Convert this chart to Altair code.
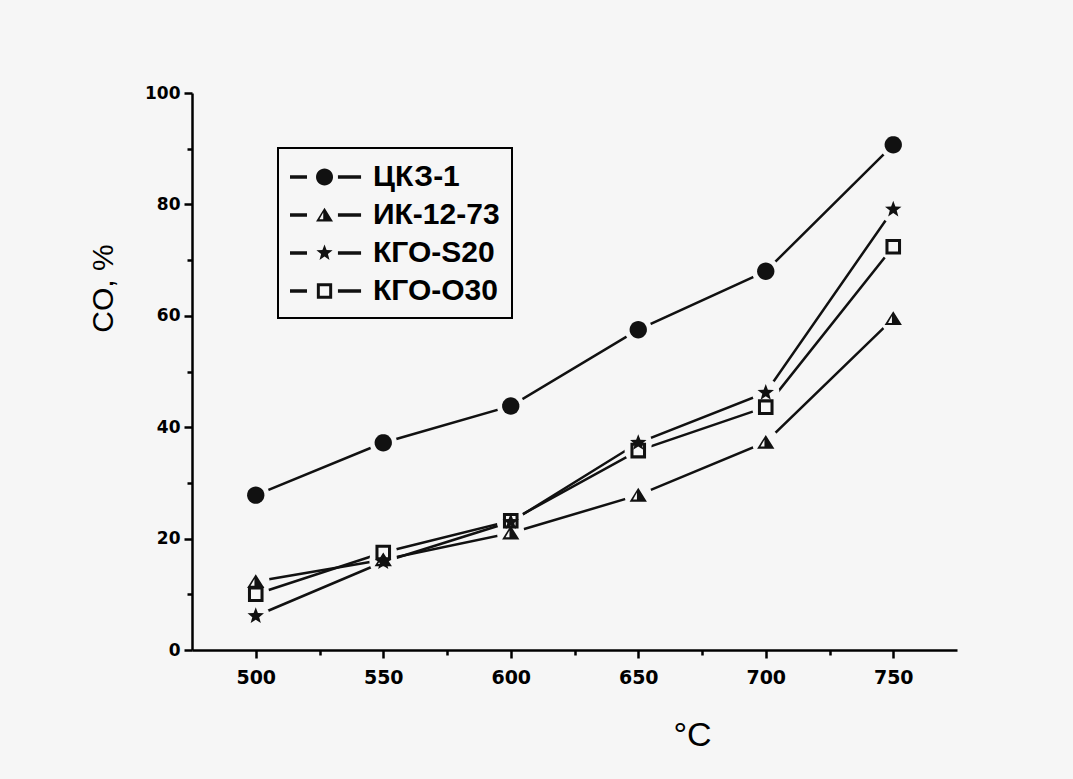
import math
import altair as alt
import pandas as pd

# ---- data ----
temps = [500, 550, 600, 650, 700, 750]
series_names = ["ЦКЗ-1", "ИК-12-73", "КГО-S20", "КГО-О30"]
co_tskz1 = [27.8, 37.2, 43.8, 57.5, 68.0, 90.7]
co_ik1273 = [12.3, 16.2, 21.0, 27.8, 37.3, 59.5]
co_kgo_s20 = [6.1, 15.8, 23.0, 37.2, 46.2, 79.1]
co_kgo_o30 = [10.0, 17.5, 23.2, 35.8, 43.6, 72.4]
x_major = [500, 550, 600, 650, 700, 750]
x_ticks = [500, 525, 550, 575, 600, 625, 650, 675, 700, 725, 750]
y_ticks = [0, 10, 20, 30, 40, 50, 60, 70, 80, 90, 100]

rows = []
for name, vals in zip(series_names, [co_tskz1, co_ik1273, co_kgo_s20, co_kgo_o30]):
    for t, v in zip(temps, vals):
        rows.append({"T": t, "CO": v, "series": name})
df = pd.DataFrame(rows)

BG = "#f6f6f6"
INK = "#111111"


# ---- symbol shapes (unit box) ----
def poly(pts, s=1.0, dx=0.0):
    return "M" + "L".join(f"{x * s + dx:.3f},{y * s:.3f}" for x, y in pts) + "Z"


circle_pts = [(math.cos(2 * math.pi * k / 32), math.sin(2 * math.pi * k / 32)) for k in range(32)]
star_pts = []
for k in range(10):
    r = 1.0 if k % 2 == 0 else 0.42
    a = math.radians(-90 + 36 * k)
    star_pts.append((r * math.cos(a), r * math.sin(a)))
tri_outer = [(0, -0.85), (1, 0.75), (-1, 0.75)]
tri_hole = [(-0.15, -0.3), (-0.6, 0.5), (-0.15, 0.5)]
sq_outer = [(-0.9, -0.9), (0.9, -0.9), (0.9, 0.9), (-0.9, 0.9)]
sq_hole = [(-0.55, -0.55), (-0.55, 0.55), (0.55, 0.55), (0.55, -0.55)]

shape_polys = [[circle_pts], [tri_outer, tri_hole], [star_pts], [sq_outer, sq_hole]]

plot_shapes = [" ".join(poly(p) for p in polys) for polys in shape_polys]

# legend symbols: dash - marker - dash
dash_t = 0.1
dashes = (poly([(-1, -dash_t), (0, -dash_t), (0, dash_t), (-1, dash_t)]) + " " +
          poly([(1.82, -dash_t), (3.18, -dash_t), (3.18, dash_t), (1.82, dash_t)]))
legend_shapes = [dashes + " " + " ".join(poly(p, 0.5, 1.03) for p in polys) for polys in shape_polys]

x_enc = alt.X(
    "T:Q",
    scale=alt.Scale(domain=[475, 775], nice=False, zero=False),
    axis=alt.Axis(
        values=x_ticks,
        labelExpr="datum.value % 50 === 0 ? datum.label : ''",
        tickSize={"condition": {"test": "datum.value % 50 === 0", "value": 8}, "value": 5},
        labelFontSize=19,
        labelPadding=10,
        title="°C",
        titleFontSize=34,
        titleFont="Liberation Sans",
        titleFontWeight="normal",
        titleX=500,
        titleY=95,
        titleAlign="center",
        titleBaseline="alphabetic",
        titleColor="black",
    ),
)
y_enc = alt.Y(
    "CO:Q",
    scale=alt.Scale(domain=[0, 100], nice=False),
    axis=alt.Axis(
        values=y_ticks,
        labelExpr="datum.value % 20 === 0 ? datum.label : ''",
        tickSize={"condition": {"test": "datum.value % 20 === 0", "value": 8}, "value": 5},
        labelFontSize=17,
        labelPadding=4,
        title="CO, %",
        titleFontSize=30,
        titleFont="Liberation Sans",
        titleFontWeight="normal",
        titleX=-89,
        titleY=195,
        titleAlign="center",
        titleBaseline="middle",
        titleColor="black",
    ),
)

base = alt.Chart(df)

line_layers = []
for i, name in enumerate(series_names):
    enc_x = x_enc if i == 0 else alt.X("T:Q")
    enc_y = y_enc if i == 0 else alt.Y("CO:Q")
    line_layers.append(
        base.transform_filter(alt.datum.series == name)
        .mark_line(color=INK, strokeWidth=2.5)
        .encode(x=enc_x, y=enc_y, order="T:Q")
    )

halos = base.mark_point(filled=True, fill=BG, size=750, shape="circle", opacity=1, strokeWidth=0).encode(
    x="T:Q", y="CO:Q"
)

points = base.mark_point(filled=True, color=INK, size=300, opacity=1).encode(
    x="T:Q",
    y="CO:Q",
    shape=alt.Shape(
        "series:N",
        scale=alt.Scale(domain=series_names, range=plot_shapes),
        legend=None,
    ),
)

legend_layer = base.transform_filter("false").mark_point(filled=True, color=INK, opacity=1).encode(
    x="T:Q",
    y="CO:Q",
    shape=alt.Shape(
        "series:N",
        scale=alt.Scale(domain=series_names, range=legend_shapes),
        legend=alt.Legend(
            title=None,
            orient="none",
            legendX=86,
            legendY=55,
            symbolSize=1156,
            symbolStrokeWidth=0,
            symbolFillColor=INK,
            symbolOpacity=1,
            labelFont="Liberation Sans",
            labelFontWeight="bold",
            labelFontSize=30,
            labelColor="black",
            labelOffset=49,
            rowPadding=6,
            padding=12,
            strokeColor="black",
        ),
    ),
)

chart = (
    alt.layer(*line_layers, halos, points, legend_layer)
    .resolve_scale(shape="independent")
    .properties(
        width=765,
        height=557,
        background=BG,
        autosize=alt.AutoSizeParams(type="none"),
        padding={"left": 192, "top": 93, "right": 116, "bottom": 129},
    )
    .configure_view(stroke=None)
    .configure_legend(strokeWidth=2)
    .configure_axis(
        grid=False,
        domainColor="black",
        domainWidth=2.5,
        tickColor="black",
        tickWidth=2.5,
        labelFont="DejaVu Sans",
        labelFontWeight="bold",
        labelColor="black",
    )
)

chart.save("out.html", embed_options={"renderer": "svg", "actions": False})
